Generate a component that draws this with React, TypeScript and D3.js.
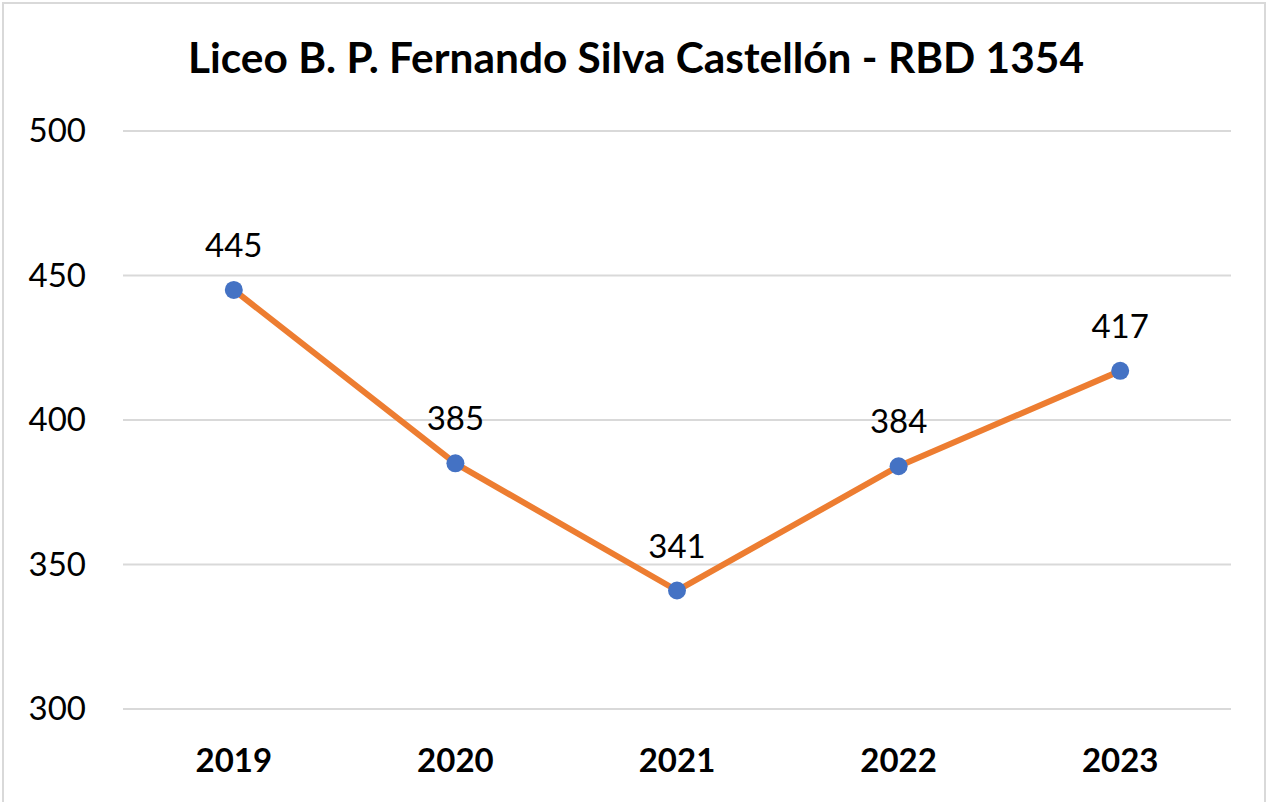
import { useRef, useEffect } from "react";
import * as d3 from "d3";

const years = ["2019", "2020", "2021", "2022", "2023"];
const scores = [445, 385, 341, 384, 417];
const yTicks = [300, 350, 400, 450, 500];
const title = "Liceo B. P. Fernando Silva Castellón - RBD 1354";

const W = 1266;
const H = 802;
const FONT = "Lato, 'Open Sans', sans-serif";

export default function App() {
  const svgRef = useRef<SVGSVGElement>(null);

  useEffect(() => {
    document.body.style.margin = "0";
    const svg = d3.select(svgRef.current);
    svg.selectAll("*").remove();

    const x = d3.scaleBand().domain(years).range([123, 1231]);
    const y = d3.scaleLinear().domain([300, 500]).range([709, 131]);
    const cx = (d: string) => (x(d) as number) + x.bandwidth() / 2;

    svg.append("rect").attr("width", W).attr("height", H).attr("fill", "#fff");
    // chart frame (bottom edge runs off the picture)
    svg.append("rect")
      .attr("x", 3).attr("y", 3).attr("width", W - 4).attr("height", H + 20)
      .attr("fill", "none").attr("stroke", "#d9d9d9").attr("stroke-width", 2);

    svg.append("text")
      .attr("x", 636).attr("y", 73)
      .attr("text-anchor", "middle")
      .attr("font-family", FONT).attr("font-weight", "bold").attr("font-size", 42.4)
      .attr("fill", "#000")
      .text(title);

    // grid lines
    svg.append("g").selectAll("line")
      .data(yTicks)
      .join("line")
      .attr("x1", 123).attr("x2", 1231)
      .attr("y1", (d) => y(d)).attr("y2", (d) => y(d))
      .attr("stroke", "#d9d9d9").attr("stroke-width", 2);

    // y labels
    svg.append("g").selectAll("text")
      .data(yTicks)
      .join("text")
      .attr("x", 86).attr("y", (d) => y(d) + 11)
      .attr("text-anchor", "end")
      .attr("font-family", FONT).attr("font-size", 33)
      .attr("fill", "#000")
      .text((d) => d);

    // x labels
    svg.append("g").selectAll("text")
      .data(years)
      .join("text")
      .attr("x", (d) => cx(d)).attr("y", 772)
      .attr("text-anchor", "middle")
      .attr("font-family", FONT).attr("font-weight", "bold").attr("font-size", 33)
      .attr("fill", "#000")
      .text((d) => d);

    const pts = years.map((yr, i) => ({ yr, v: scores[i] }));
    const line = d3.line<{ yr: string; v: number }>().x((d) => cx(d.yr)).y((d) => y(d.v));

    svg.append("path")
      .datum(pts)
      .attr("d", line)
      .attr("fill", "none")
      .attr("stroke", "#ed7d31")
      .attr("stroke-width", 6)
      .attr("stroke-linejoin", "round")
      .attr("stroke-linecap", "round");

    svg.append("g").selectAll("circle")
      .data(pts)
      .join("circle")
      .attr("cx", (d) => cx(d.yr)).attr("cy", (d) => y(d.v))
      .attr("r", 9)
      .attr("fill", "#4472c4");

    // data labels
    svg.append("g").selectAll("text")
      .data(pts)
      .join("text")
      .attr("x", (d) => cx(d.yr)).attr("y", (d) => y(d.v) - 33)
      .attr("text-anchor", "middle")
      .attr("font-family", FONT).attr("font-size", 33)
      .attr("fill", "#000")
      .text((d) => d.v);
  }, []);

  return (
    <svg ref={svgRef} width={W} height={H} style={{ display: "block", position: "absolute", left: 0, top: 0 }} />
  );
}
